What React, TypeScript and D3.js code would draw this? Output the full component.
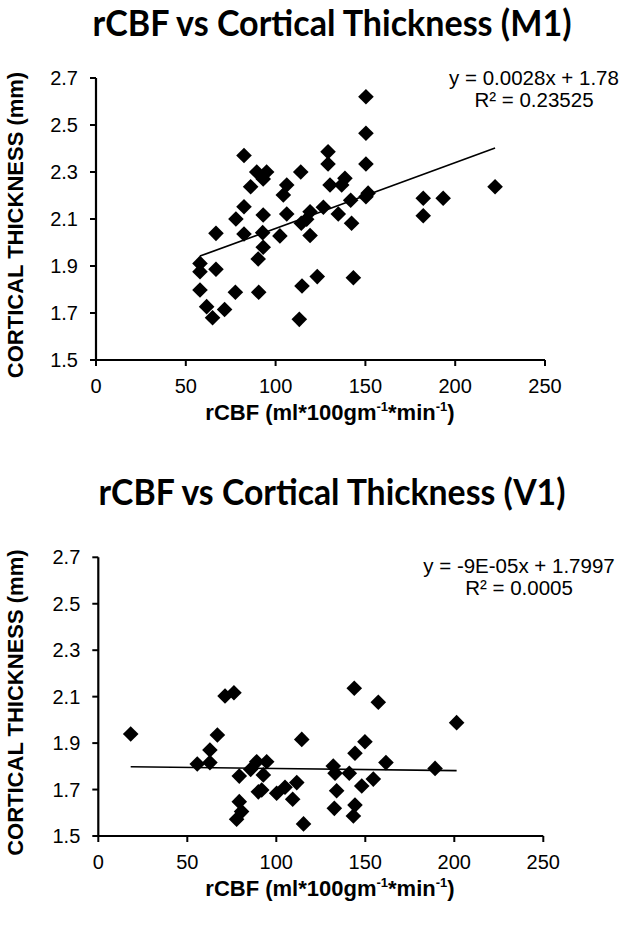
import React from "react";
import * as d3 from "d3";

// ---- data ----
const xTicks = [0, 50, 100, 150, 200, 250];
const yTicks = [1.5, 1.7, 1.9, 2.1, 2.3, 2.5, 2.7];

const m1X = [150.3, 82.4, 150.3, 89.5, 95, 93.1, 114, 129.2, 129.2, 150.3, 86.1, 106.2, 104.3, 130.3, 136.8, 138.6, 141.8, 150.3, 151.5, 82.4, 77.9, 93.1, 106.2, 119.2, 117.3, 126.6, 134.9, 142.3, 66.8, 82.4, 92.8, 102.4, 114.3, 119.2, 93.1, 90.3, 57.9, 57.9, 66.8, 57.9, 77.6, 90.6, 114.7, 123.2, 143.3, 61.6, 64.9, 71.6, 113.2, 182.2, 193.3, 182.2, 222.2];
const m1Y = [2.62, 2.37, 2.465, 2.3, 2.3, 2.27, 2.3, 2.386, 2.334, 2.334, 2.237, 2.245, 2.202, 2.245, 2.245, 2.273, 2.18, 2.195, 2.21, 2.152, 2.1, 2.117, 2.121, 2.131, 2.099, 2.15, 2.121, 2.082, 2.039, 2.036, 2.042, 2.028, 2.082, 2.03, 1.98, 1.93, 1.911, 1.876, 1.886, 1.798, 1.788, 1.788, 1.815, 1.855, 1.85, 1.727, 1.68, 1.715, 1.673, 2.188, 2.188, 2.114, 2.237];
const m1Slope = 0.0028;
const m1Intercept = 1.78;
const m1Eq = ["y = 0.0028x + 1.78", "R\u00B2 = 0.23525"];

const v1X = [18.2, 55.6, 62.7, 62.7, 66.9, 71.2, 76.2, 79.2, 79.2, 80.5, 77.7, 85.6, 89, 94.6, 92.7, 89.9, 91.8, 100.2, 104.9, 111.5, 109.2, 114.3, 115.3, 132, 133, 133.9, 132.6, 141, 143.8, 144.2, 148, 144.2, 143.3, 149.8, 157.3, 201.3, 161.6, 189.2, 154.5];
const v1Y = [1.939, 1.81, 1.816, 1.87, 1.935, 2.103, 2.117, 1.758, 1.648, 1.605, 1.572, 1.787, 1.82, 1.82, 1.763, 1.69, 1.698, 1.684, 1.71, 1.73, 1.658, 1.916, 1.552, 1.801, 1.77, 1.695, 1.619, 1.77, 2.136, 1.856, 1.715, 1.633, 1.586, 1.906, 2.076, 1.988, 1.816, 1.791, 1.745];
const v1Slope = -0.00009;
const v1Intercept = 1.7997;
const v1Eq = ["y = -9E-05x + 1.7997", "R\u00B2 = 0.0005"];

const titles = ["rCBF vs Cortical Thickness (M1)", "rCBF vs Cortical Thickness (V1)"];
const yLabel = "CORTICAL THICKNESS (mm)";

const SANS = "'Liberation Sans', Arial, sans-serif";
const TITLE_FONT = "Lato, 'Open Sans', sans-serif";

type PanelProps = {
  xs: number[];
  ys: number[];
  slope: number;
  intercept: number;
  eq: string[];
  title: string;
  titleLen: number;
  left: number;
  right: number;
  top: number;
  bottom: number;
  titleY: number;
  eqX: number;
  eqY: number;
};

const diamond = (r: number) => `M0,${-r}L${r},0L0,${r}L${-r},0Z`;

function Panel(p: PanelProps) {
  const x = d3.scaleLinear().domain([0, 250]).range([p.left, p.right]);
  const y = d3.scaleLinear().domain([1.5, 2.7]).range([p.bottom, p.top]);
  const xmin = d3.min(p.xs) as number;
  const xmax = d3.max(p.xs) as number;
  const line = d3
    .line<number>()
    .x((d) => x(d))
    .y((d) => y(p.slope * d + p.intercept));
  const midX = 330;
  return (
    <g>
      <text
        x={332}
        y={p.titleY}
        textAnchor="middle"
        fontFamily={TITLE_FONT}
        fontWeight={700}
        fontSize={36}
        textLength={p.titleLen}
        lengthAdjust="spacingAndGlyphs"
        fill="#000"
      >
        {p.title}
      </text>
      {/* axes */}
      <line x1={p.left} x2={p.left} y1={p.top} y2={p.bottom + 1} stroke="#000" strokeWidth={2.2} />
      <line x1={p.left - 1} x2={p.right} y1={p.bottom} y2={p.bottom} stroke="#000" strokeWidth={2.2} />
      {yTicks.map((t) => (
        <g key={"y" + t}>
          <line x1={p.left - 6} x2={p.left} y1={y(t)} y2={y(t)} stroke="#000" strokeWidth={2} />
          <text x={p.left - 18} y={y(t) + 7} textAnchor="end" fontFamily={SANS} fontSize={20} fill="#000">
            {t.toFixed(1)}
          </text>
        </g>
      ))}
      {xTicks.map((t) => (
        <g key={"x" + t}>
          <line x1={x(t)} x2={x(t)} y1={p.bottom} y2={p.bottom + 6} stroke="#000" strokeWidth={2} />
          <text x={x(t)} y={p.bottom + 33} textAnchor="middle" fontFamily={SANS} fontSize={20} fill="#000">
            {t}
          </text>
        </g>
      ))}
      {/* y label */}
      <text
        transform={`translate(23,${(p.top + p.bottom) / 2 + 6}) rotate(-90)`}
        textAnchor="middle"
        fontFamily={SANS}
        fontWeight={700}
        fontSize={22}
        fill="#000"
      >
        {yLabel}
      </text>
      {/* x label */}
      <text x={midX} y={p.bottom + 60} textAnchor="middle" fontFamily={SANS} fontWeight={700} fontSize={22} fill="#000">
        <tspan>rCBF (ml*100gm</tspan>
        <tspan fontSize={13} dy={-9}>-1</tspan>
        <tspan dy={9}>*min</tspan>
        <tspan fontSize={13} dy={-9}>-1</tspan>
        <tspan dy={9}>)</tspan>
      </text>
      {/* points */}
      {p.xs.map((v, i) => (
        <path key={i} d={diamond(7.8)} transform={`translate(${x(v)},${y(p.ys[i])})`} fill="#000" />
      ))}
      {/* trendline */}
      <path d={line([xmin, xmax]) || ""} stroke="#000" strokeWidth={1.6} fill="none" />
      {/* equation */}
      <text x={p.eqX} y={p.eqY} textAnchor="middle" fontFamily={SANS} fontSize={20.5} fill="#000">
        {p.eq[0]}
      </text>
      <text x={p.eqX} y={p.eqY + 22} textAnchor="middle" fontFamily={SANS} fontSize={20.5} fill="#000">
        {p.eq[1]}
      </text>
    </g>
  );
}

export default function App() {
  return (
    <svg
      width={625}
      height={929}
      style={{ position: "absolute", left: 0, top: 0, background: "#fff", display: "block" }}
    >
      <rect width={625} height={929} fill="#fff" />
      <Panel
        xs={m1X}
        ys={m1Y}
        slope={m1Slope}
        intercept={m1Intercept}
        eq={m1Eq}
        title={titles[0]}
        titleLen={479}
        left={96}
        right={545}
        top={78}
        bottom={360}
        titleY={36}
        eqX={534}
        eqY={85}
      />
      <Panel
        xs={v1X}
        ys={v1Y}
        slope={v1Slope}
        intercept={v1Intercept}
        eq={v1Eq}
        title={titles[1]}
        titleLen={467}
        left={98.3}
        right={543.3}
        top={557.3}
        bottom={836}
        titleY={505}
        eqX={519}
        eqY={573}
      />
    </svg>
  );
}
